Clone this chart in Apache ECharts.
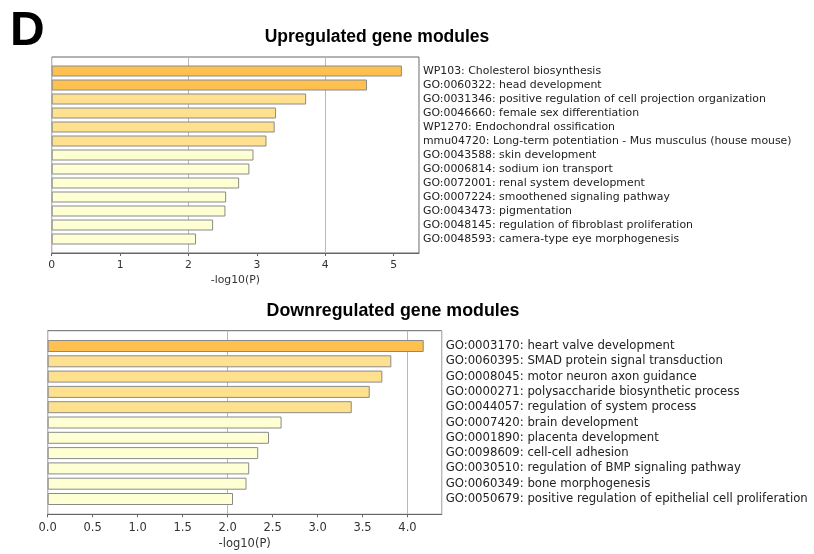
<!DOCTYPE html>
<html>
<head>
<meta charset="utf-8">
<script src="https://cdn.jsdelivr.net/npm/echarts@6/dist/echarts.min.js"></script>
<style>
html,body{margin:0;padding:0;background:#fff;}
#chart{width:814px;height:554px;}
</style>
</head>
<body>
<div id="chart"></div>
<script>
const panelLetter = 'D';
const upTitle = 'Upregulated gene modules';
const downTitle = 'Downregulated gene modules';
const axisName = '-log10(P)';

const upCategories = [
  'WP103: Cholesterol biosynthesis',
  'GO:0060322: head development',
  'GO:0031346: positive regulation of cell projection organization',
  'GO:0046660: female sex differentiation',
  'WP1270: Endochondral ossification',
  'mmu04720: Long-term potentiation - Mus musculus (house mouse)',
  'GO:0043588: skin development',
  'GO:0006814: sodium ion transport',
  'GO:0072001: renal system development',
  'GO:0007224: smoothened signaling pathway',
  'GO:0043473: pigmentation',
  'GO:0048145: regulation of fibroblast proliferation',
  'GO:0048593: camera-type eye morphogenesis'
];
const upValues = [5.12, 4.61, 3.72, 3.28, 3.26, 3.14, 2.95, 2.89, 2.74, 2.55, 2.54, 2.36, 2.11];

const downCategories = [
  'GO:0003170: heart valve development',
  'GO:0060395: SMAD protein signal transduction',
  'GO:0008045: motor neuron axon guidance',
  'GO:0000271: polysaccharide biosynthetic process',
  'GO:0044057: regulation of system process',
  'GO:0007420: brain development',
  'GO:0001890: placenta development',
  'GO:0098609: cell-cell adhesion',
  'GO:0030510: regulation of BMP signaling pathway',
  'GO:0060349: bone morphogenesis',
  'GO:0050679: positive regulation of epithelial cell proliferation'
];
const downValues = [4.18, 3.82, 3.72, 3.58, 3.38, 2.60, 2.46, 2.34, 2.24, 2.21, 2.06];

const upAxis = { min: 0, max: 5.37, interval: 1, decimals: 0 };
const downAxis = { min: 0, max: 4.38, interval: 0.5, decimals: 1 };
const refLineInterval = 2;

function barColor(v) {
  if (v > 4) return '#FEC04E';
  if (v > 3) return '#FEE08F';
  return '#FFFFD4';
}

function padCats(c) { return [''].concat(c, ['']); }
function padData(v) {
  return ['-'].concat(v.map(x => ({ value: x, itemStyle: { color: barColor(x) } })), ['-']);
}

const FONT = 'DejaVu Sans';

function mainX(gi, ax, gap, fs, margin) {
  return {
    type: 'value', gridIndex: gi, position: 'bottom',
    min: ax.min, max: ax.max, interval: ax.interval,
    name: axisName, nameLocation: 'middle', nameGap: gap,
    nameTextStyle: { fontFamily: FONT, fontSize: fs, color: '#333' },
    axisLine: { show: true, lineStyle: { color: '#666', width: 1 } },
    axisTick: { show: true, length: 3, lineStyle: { color: '#666' } },
    axisLabel: {
      fontFamily: FONT, fontSize: fs, color: '#333', margin: margin,
      showMaxLabel: false,
      formatter: v => v.toFixed(ax.decimals)
    },
    splitLine: { show: false }
  };
}
function refX(gi, ax) {
  return {
    type: 'value', gridIndex: gi, position: 'top',
    min: ax.min, max: ax.max, interval: refLineInterval,
    axisLine: { show: false }, axisTick: { show: false }, axisLabel: { show: false },
    splitLine: { show: true, lineStyle: { color: '#b8b8b8', width: 1 } }
  };
}
function catY(gi, cats, fs) {
  return {
    type: 'category', gridIndex: gi, position: 'right', inverse: true,
    boundaryGap: false, data: padCats(cats),
    axisLine: { show: false }, axisTick: { show: false },
    axisLabel: { fontFamily: FONT, fontSize: fs, color: '#222', margin: 4, interval: 0, align: 'left' },
    splitLine: { show: false }
  };
}

const chart = echarts.init(document.getElementById('chart'), null, { renderer: 'canvas' });
chart.setOption({
  animation: false,
  backgroundColor: '#fff',
  title: [
    { text: panelLetter, left: 10, top: 8, padding: 0,
      textStyle: { fontFamily: 'Liberation Sans', fontWeight: 'bold', fontSize: 48, color: '#000' } },
    { text: upTitle, left: 377, top: 28, padding: 0, textAlign: 'center',
      textStyle: { fontFamily: 'Liberation Sans', fontWeight: 'bold', fontSize: 17.5, color: '#000' } },
    { text: downTitle, left: 393, top: 302, padding: 0, textAlign: 'center',
      textStyle: { fontFamily: 'Liberation Sans', fontWeight: 'bold', fontSize: 17.8, color: '#000' } }
  ],
  grid: [
    { left: 51.7, top: 57, width: 367.3, height: 196, show: true, borderColor: '#666', borderWidth: 1, backgroundColor: 'transparent' },
    { left: 47.7, top: 330.7, width: 394, height: 183.6, show: true, borderColor: '#666', borderWidth: 1, backgroundColor: 'transparent' }
  ],
  xAxis: [mainX(0, upAxis, 22, 10.8, 7), refX(0, upAxis), mainX(1, downAxis, 24, 11.5, 8), refX(1, downAxis)],
  yAxis: [catY(0, upCategories, 10.9), catY(1, downCategories, 11.7)],
  series: [
    { type: 'bar', xAxisIndex: 0, yAxisIndex: 0, barWidth: 11, data: padData(upValues),
      itemStyle: { borderColor: '#8a8a8a', borderWidth: 1 }, z: 3 },
    { type: 'bar', xAxisIndex: 2, yAxisIndex: 1, barWidth: 12, data: padData(downValues),
      itemStyle: { borderColor: '#8a8a8a', borderWidth: 1 }, z: 3 }
  ]
});
</script>
</body>
</html>
